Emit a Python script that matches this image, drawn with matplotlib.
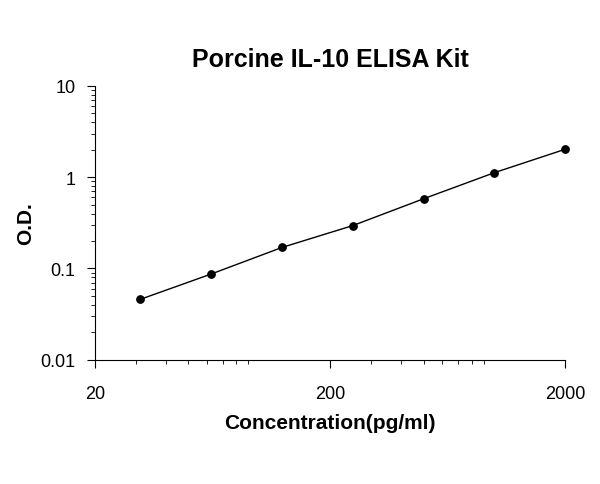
import matplotlib.pyplot as plt
from matplotlib.ticker import FixedLocator, FixedFormatter, LogLocator, NullFormatter

plt.rcParams['font.family'] = ['Liberation Sans', 'DejaVu Sans']

conc = [31.25, 62.5, 125, 250, 500, 1000, 2000]
od = [0.046, 0.087, 0.170, 0.295, 0.58, 1.12, 2.02]

x_ticks = [20, 200, 2000]
y_ticks = [0.01, 0.1, 1, 10]
y_labels = ["0.01", "0.1", "1", "10"]

fig = plt.figure(figsize=(6, 4.85), dpi=100)
ax = fig.add_axes([0.158, 0.256, 0.784, 0.565])

ax.plot(conc, od, color="black", linewidth=1)
ax.scatter(conc, od, color="black", s=28, zorder=3, clip_on=False)

ax.set_xscale("log")
ax.set_yscale("log")
ax.set_xlim(20, 2000)
ax.set_ylim(0.01, 10)

ax.xaxis.set_major_locator(FixedLocator(x_ticks))
ax.xaxis.set_major_formatter(FixedFormatter([str(v) for v in x_ticks]))
ax.xaxis.set_minor_locator(LogLocator(base=10, subs=range(2, 10)))
ax.xaxis.set_minor_formatter(NullFormatter())
ax.yaxis.set_major_locator(FixedLocator(y_ticks))
ax.yaxis.set_major_formatter(FixedFormatter(y_labels))
ax.yaxis.set_minor_locator(LogLocator(base=10, subs=range(2, 10)))
ax.yaxis.set_minor_formatter(NullFormatter())

ax.tick_params(axis="both", which="major", labelsize=13, length=6, direction="out")
ax.tick_params(axis="both", which="minor", length=3, direction="out")
ax.tick_params(axis="x", pad=12)
ax.tick_params(axis="y", pad=8)

for s in ["top", "right"]:
    ax.spines[s].set_visible(False)

ax.set_xlabel("Concentration(pg/ml)", fontsize=15, fontweight="bold", labelpad=8)
ax.set_ylabel("O.D.", fontsize=15, fontweight="bold")
ax.set_title("Porcine IL-10 ELISA Kit", fontsize=18, fontweight="bold", pad=14)

fig.savefig("out.png", dpi=100)
